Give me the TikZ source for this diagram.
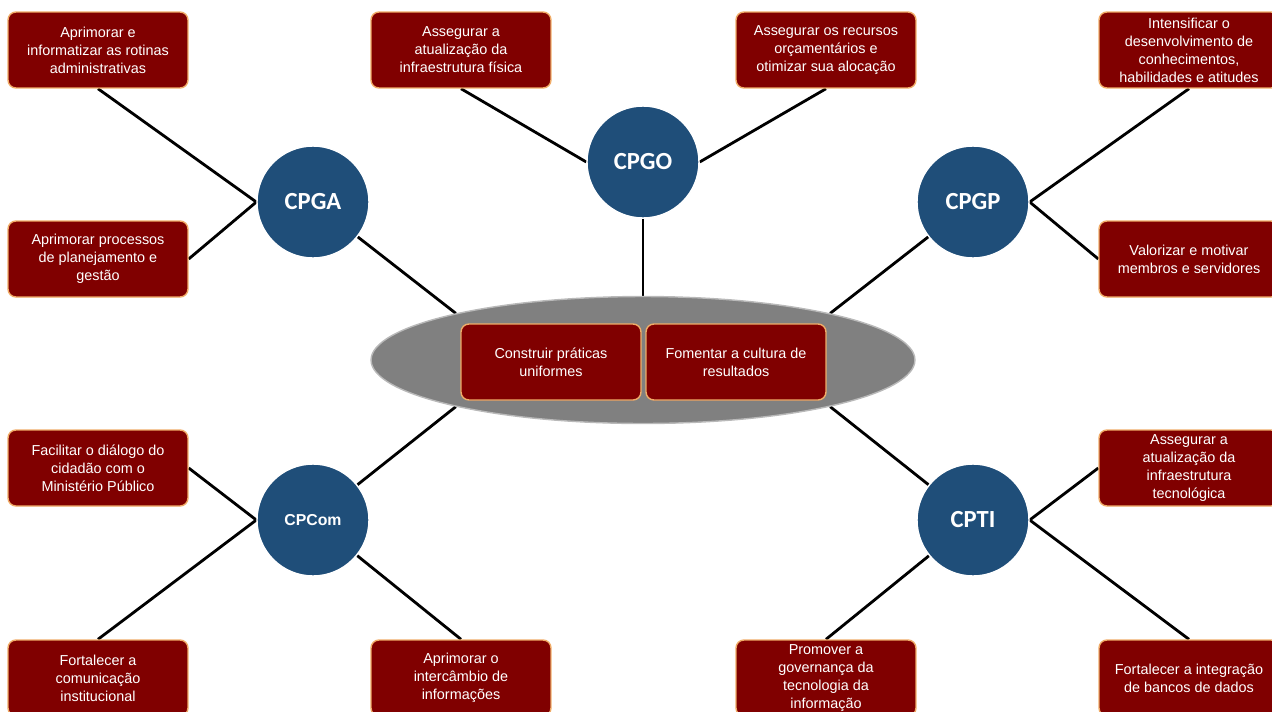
\documentclass[tikz,border=0pt]{standalone}
\usepackage{fontspec}
\setmainfont{Liberation Sans}
\newfontfamily\calibri{Carlito}
\usetikzlibrary{shapes.geometric,backgrounds}
\definecolor{boxred}{RGB}{128,0,0}
\definecolor{boxedge}{RGB}{240,172,104}
\definecolor{circblue}{RGB}{31,78,121}
\definecolor{hubgray}{RGB}{128,128,128}

\begin{document}
\begin{tikzpicture}[x=0.02cm,y=-0.02cm,
    goal/.style={draw=boxedge, line width=0.8pt, fill=boxred, rounded corners=4.5pt,
      minimum width=3.6cm, minimum height=1.52cm, inner sep=1pt, align=center,
      text=white, font=\fontsize{8.2}{10.3}\selectfont},
    unit/.style={circle, fill=circblue, draw=white, line width=0.8pt, minimum size=2.24cm,
      inner sep=0pt, text=white, font=\calibri\bfseries\fontsize{14}{14}\selectfont},
    link/.style={line width=1.6pt}]
  \useasboundingbox (0,0) rectangle (1272,711);
  \clip (0,0) rectangle (1272,711);
  \node[ellipse, fill=hubgray, draw=gray!55, line width=0.8pt, minimum width=10.88cm, minimum height=2.54cm] (hub) at (643,360) {};
  \node[goal] (ca) at (551,362) {Construir práticas\\uniformes};
  \node[goal] (cb) at (736,362) {Fomentar a cultura de\\resultados};

  \node[unit] (cpga) at (313,202) {CPGA};
  \node[unit] (cpgo) at (643,162) {CPGO};
  \node[unit] (cpgp) at (973,202) {CPGP};
  \node[unit, font=\bfseries\fontsize{9}{9}\selectfont] (cpcom) at (313,520) {CPCom};
  \node[unit] (cpti) at (973,520) {CPTI};

  \node[goal] (tla) at (98,50) {Aprimorar e\\informatizar as rotinas\\administrativas};
  \node[goal] (tlb) at (98,259) {Aprimorar processos\\de planejamento e\\gestão};
  \node[goal] (toa) at (461,50) {Assegurar a\\atualização da\\infraestrutura física};
  \node[goal] (tob) at (826,50) {Assegurar os recursos\\orçamentários e\\otimizar sua alocação};
  \node[goal] (tra) at (1189,50) {Intensificar o\\desenvolvimento de\\conhecimentos,\\habilidades e atitudes};
  \node[goal] (trb) at (1189,259) {Valorizar e motivar\\membros e servidores};
  \node[goal] (bla) at (98,468) {Facilitar o diálogo do\\cidadão com o\\Ministério Público};
  \node[goal] (blb) at (98,678) {Fortalecer a\\comunicação\\institucional};
  \node[goal] (boa) at (461,678) {Aprimorar o\\intercâmbio de\\informações};
  \node[goal] (bob) at (826,678) {Promover a\\governança da\\tecnologia da\\informação};
  \node[goal] (bra) at (1189,468) {Assegurar a\\atualização da\\infraestrutura\\tecnológica};
  \node[goal] (brb) at (1189,678) {Fortalecer a integração\\de bancos de dados};

  \begin{scope}[on background layer]
    \draw[link] (tla.south) -- (cpga.west);
    \draw[link] (tlb.east) -- (cpga.west);
    \draw[link] (toa.south) -- (cpgo.west);
    \draw[link] (tob.south) -- (cpgo.east);
    \draw[link] (tra.south) -- (cpgp.east);
    \draw[link] (trb.west) -- (cpgp.east);
    \draw[link] (bla.east) -- (cpcom.west);
    \draw[link] (blb.north) -- (cpcom.west);
    \draw[link] (cpcom) -- (boa.north);
    \draw[link] (cpti) -- (bob.north);
    \draw[link] (bra.west) -- (cpti.east);
    \draw[link] (brb.north) -- (cpti.east);
    \draw[link] (cpga) -- (hub.166);
    \draw[link] (cpgo) -- (hub.north);
    \draw[link] (cpgp) -- (hub.14);
    \draw[link] (cpcom) -- (hub.194);
    \draw[link] (cpti) -- (hub.346);
  \end{scope}
\end{tikzpicture}
\end{document}
